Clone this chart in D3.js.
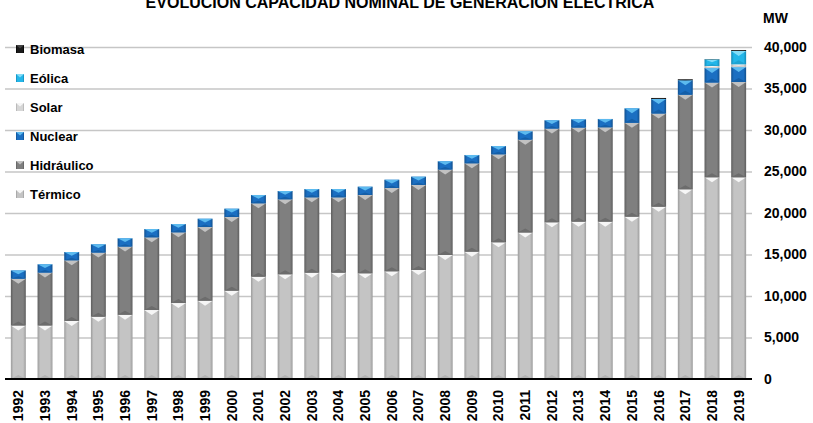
<!DOCTYPE html>
<html>
<head>
<meta charset="utf-8">
<script src="https://cdn.jsdelivr.net/npm/d3@7"></script>
<style>
body { margin: 0; background: #fff; }
svg text { font-family: "Liberation Sans", Arial, sans-serif; font-weight: bold; fill: #000; }
</style>
</head>
<body>
<div id="chart"></div>
<script>
//years on the x axis
var years = ["1992","1993","1994","1995","1996","1997","1998","1999","2000","2001",
  "2002","2003","2004","2005","2006","2007","2008","2009","2010","2011",
  "2012","2013","2014","2015","2016","2017","2018","2019"];

//installed capacity per source, MW
var termico = [6450,6450,7000,7510,7730,8310,9150,9430,10640,12330,
  12610,12810,12810,12730,12970,13130,14940,15340,16470,17650,
  18880,18960,18960,19560,20760,22850,24300,24300];
var hidraulico = [5630,6370,7300,7720,8220,8760,8520,8880,8880,8840,
  9040,9080,9080,9440,10040,10250,10290,10650,10600,11190,
  11290,11330,11370,11300,11230,11400,11420,11480];
var nuclear = [1000,1000,1000,1000,1000,1000,1000,1000,1000,1000,
  1000,1000,1000,1000,1000,1000,1000,1000,1000,1000,
  1000,1000,1000,1750,1750,1750,1750,1800];
var solar = [0,0,0,0,0,0,0,0,0,0,
  0,0,0,0,0,0,0,0,0,0,
  0,0,0,0,0,0,240,350];
var eolica = [0,0,0,0,0,0,0,0,0,0,
  0,0,0,0,0,0,0,0,0,0,
  0,0,0,0,0,0,800,1600];
var biomasa = [0,0,0,0,0,0,0,0,0,0,
  0,0,0,0,0,0,0,0,0,0,
  0,0,0,0,120,110,30,110];

var yTicks = [0,5000,10000,15000,20000,25000,30000,35000,40000];

//series names, bottom of the stack first
var keys = ["Térmico","Hidráulico","Nuclear","Solar","Eólica","Biomasa"];

//colours: body, side edge, top bevel, bottom bevel
var colours = {
  "Térmico":    ["#c4c4c4", "#9c9c9c", "#f6f6f6", "#b2b2b2"],
  "Hidráulico": ["#7f7f7f", "#5e5e5e", "#c2c2c2", "#6c6c6c"],
  "Nuclear":    ["#1b6fc2", "#11508e", "#5cbaef", "#155fa8"],
  "Solar":      ["#d6d6d6", "#adadad", "#f6f6f6", "#c4c4c4"],
  "Eólica":     ["#23b6e9", "#168ab6", "#82dcf8", "#1ea3d2"],
  "Biomasa":    ["#1a1a1a", "#000000", "#444444", "#111111"]
};

//builds the table that d3.stack wants
var table = years.map(function(year, i) {
  return { year: year, "Térmico": termico[i], "Hidráulico": hidraulico[i], "Nuclear": nuclear[i],
    "Solar": solar[i], "Eólica": eolica[i], "Biomasa": biomasa[i] };
});

var width = 813, height = 423;
var svg = d3.select("#chart").append("svg").attr("width", width).attr("height", height);

var x = d3.scaleBand().domain(years).range([5, 752]).paddingInner(0.44).paddingOuter(0.22);
var y = d3.scaleLinear().domain([0, 40000]).range([379, 47]);

//gradients giving the bars their bevelled sides
var defs = svg.append("defs");
keys.forEach(function(key, k) {
  var grad = defs.append("linearGradient").attr("id", "g" + k).attr("x1", 0).attr("x2", 1).attr("y1", 0).attr("y2", 0);
  grad.append("stop").attr("offset", 0).attr("stop-color", colours[key][1]);
  grad.append("stop").attr("offset", 0.18).attr("stop-color", colours[key][0]);
  grad.append("stop").attr("offset", 0.82).attr("stop-color", colours[key][0]);
  grad.append("stop").attr("offset", 1).attr("stop-color", colours[key][1]);
});

//gridlines
svg.append("g")
  .attr("transform", "translate(5,0)")
  .call(d3.axisRight(y).tickValues(yTicks.slice(1)).tickSize(747).tickFormat(""))
  .call(function(g) { g.select(".domain").remove(); })
  .selectAll("line").attr("stroke", "#c6c6c6").attr("stroke-width", 1.6);

//right axis labels
svg.append("g")
  .attr("transform", "translate(752,0)")
  .call(d3.axisRight(y).tickValues(yTicks).tickSize(0).tickPadding(12).tickFormat(d3.format(",")))
  .call(function(g) { g.select(".domain").remove(); })
  .selectAll("text").style("font-size", "14px");

svg.append("text").attr("x", 763).attr("y", 23).style("font-size", "14px").text("MW");

//stacked bars
var stacked = d3.stack().keys(keys)(table);

var layers = svg.append("g").selectAll("g")
  .data(stacked)
  .enter().append("g");

var segs = layers.selectAll("g")
  .data(function(layer, k) {
    return layer.map(function(d) { return { k: k, key: layer.key, year: d.data.year, y0: d[0], y1: d[1] }; })
      .filter(function(d) { return d.y1 > d.y0; });
  })
  .enter().append("g");

segs.append("rect")
  .attr("x", function(d) { return x(d.year); })
  .attr("width", x.bandwidth())
  .attr("y", function(d) { return y(d.y1); })
  .attr("height", function(d) { return y(d.y0) - y(d.y1); })
  .attr("fill", function(d) { return "url(#g" + d.k + ")"; });

//top bevel triangle
segs.append("path")
  .attr("d", function(d) {
    var x0 = x(d.year), w = x.bandwidth(), top = y(d.y1);
    var th = Math.min(5, (y(d.y0) - top) * 0.45);
    return "M" + x0 + "," + top + "L" + (x0 + w) + "," + top + "L" + (x0 + w / 2) + "," + (top + th) + "Z";
  })
  .attr("fill", function(d) { return colours[d.key][2]; });

//bottom bevel triangle
segs.append("path")
  .attr("d", function(d) {
    var x0 = x(d.year), w = x.bandwidth(), bot = y(d.y0);
    var th = Math.min(4, (bot - y(d.y1)) * 0.3);
    return "M" + x0 + "," + bot + "L" + (x0 + w) + "," + bot + "L" + (x0 + w / 2) + "," + (bot - th) + "Z";
  })
  .attr("fill", function(d) { return colours[d.key][3]; });

//x axis with rotated years
var xAxis = svg.append("g")
  .attr("transform", "translate(0,379)")
  .call(d3.axisBottom(x).tickSize(0));
xAxis.select(".domain").remove();
xAxis.selectAll("text")
  .attr("x", -11).attr("y", 0).attr("dy", "0.35em")
  .attr("transform", "rotate(-90)")
  .style("text-anchor", "end")
  .style("font-size", "14px");

svg.append("line").attr("x1", 5).attr("x2", 752).attr("y1", 379).attr("y2", 379)
  .attr("stroke", "#000").attr("stroke-width", 2);

//legend, top entry is the last series
var legend = svg.append("g").selectAll("g")
  .data(keys.slice().reverse())
  .enter().append("g")
  .attr("transform", function(d, i) { return "translate(16," + (49 + i * 29) + ")"; });

legend.append("rect")
  .attr("x", 0).attr("y", -4).attr("width", 8).attr("height", 8)
  .attr("fill", function(d) { return "url(#g" + keys.indexOf(d) + ")"; });
legend.append("path")
  .attr("d", "M0,-4L8,-4L4,-0.5Z")
  .attr("fill", function(d) { return colours[d][2]; });
legend.append("text")
  .attr("x", 14).attr("dy", "0.35em")
  .style("font-size", "13px")
  .text(function(d) { return d; });

//title, partly cut off at the top like the original
svg.append("text")
  .attr("x", 400).attr("y", 8)
  .attr("text-anchor", "middle")
  .style("font-size", "16px")
  .text("EVOLUCIÓN CAPACIDAD NOMINAL DE GENERACIÓN ELÉCTRICA");
</script>
</body>
</html>
